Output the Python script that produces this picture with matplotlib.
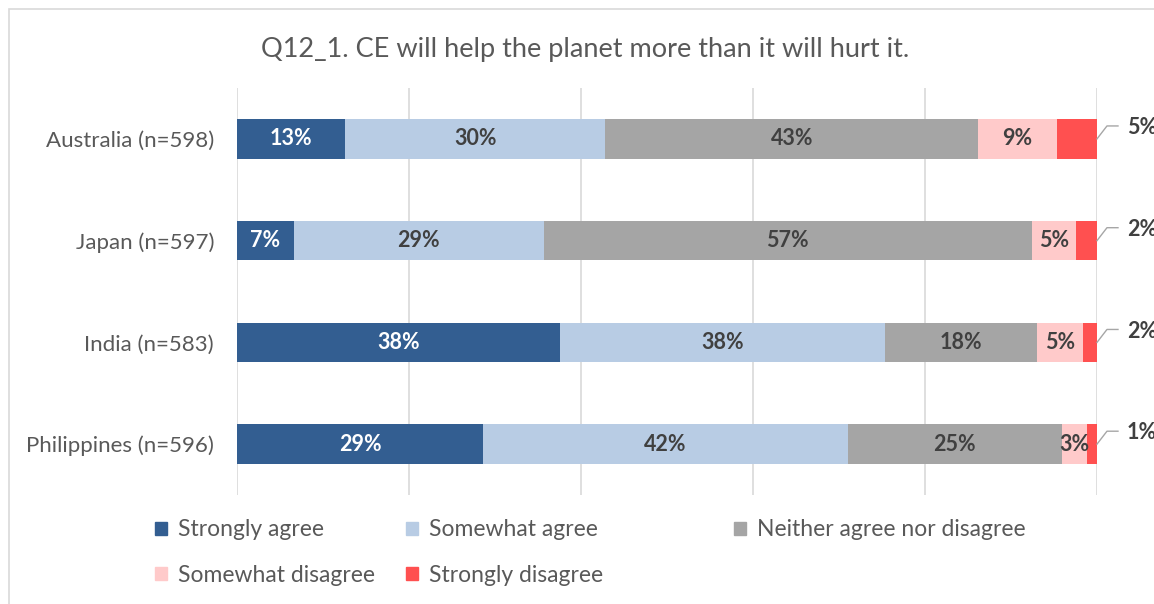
import numpy as np
import matplotlib.pyplot as plt
from matplotlib.patches import Patch, Rectangle

plt.rcParams['font.family'] = ['Lato', 'DejaVu Sans']

# data (percent of respondents)
countries = ['Australia (n=598)', 'Japan (n=597)', 'India (n=583)', 'Philippines (n=596)']
series = ['Strongly agree', 'Somewhat agree', 'Neither agree nor disagree',
          'Somewhat disagree', 'Strongly disagree']
strongly_agree = [12.6, 6.6, 37.6, 28.6]
somewhat_agree = [30.2, 29.1, 37.8, 42.4]
neither = [43.4, 56.7, 17.6, 24.9]
somewhat_disagree = [9.1, 5.2, 5.4, 2.9]
strongly_disagree = [4.7, 2.4, 1.6, 1.2]

colors = ['#335E91', '#B8CCE4', '#A5A5A5', '#FFCACA', '#FF5050']
label_colors = ['white', '#404040', '#404040', '#404040', '#404040']
txt_gray = '#595959'

fig = plt.figure(figsize=(11.54, 6.04), dpi=100)
ax = fig.add_axes([237/1154, 1 - 495/604, 860/1154, 407/604])

# frame around chart
fig.patches.append(Rectangle((9/1154, -0.1), 1.2, 1 - 9/604 + 0.1, transform=fig.transFigure,
                             fill=False, edgecolor='#D9D9D9', linewidth=1.2))

y = np.arange(len(countries))
left = np.zeros(len(countries))
all_vals = [strongly_agree, somewhat_agree, neither, somewhat_disagree, strongly_disagree]
for k, vals in enumerate(all_vals):
    vals = np.array(vals)
    ax.barh(y, vals, left=left, height=0.39, color=colors[k], zorder=2)
    for i in range(len(countries)):
        lab = '{0:.0f}%'.format(vals[i])
        if k < 4:
            ax.text(left[i] + vals[i] / 2, y[i], lab, ha='center', va='center',
                    fontsize=15.5, fontweight='bold', color=label_colors[k], zorder=3)
        else:
            # callout label to the right of the bar
            xe = left[i] + vals[i]
            ax.plot([xe, xe + 1.16, xe + 2.44], [y[i], y[i] - 0.127, y[i] - 0.127],
                    color='#A6A6A6', lw=1, clip_on=False, zorder=3)
            ax.text(xe + 3.5, y[i] - 0.11, lab, ha='left', va='center', fontsize=15.5,
                    fontweight='bold', color='#404040', clip_on=False)
    left += vals

ax.set_xlim(0, 100)
ax.set_ylim(3.5, -0.5)
ax.set_xticks(np.arange(0, 101, 20))
ax.xaxis.grid(True, color='#D9D9D9', linewidth=1.2, zorder=0)
ax.tick_params(axis='x', length=0, labelbottom=False)
ax.tick_params(axis='y', length=0, pad=16.5, labelsize=16, labelcolor=txt_gray)
ax.set_yticks(y)
ax.set_yticklabels(countries)
for s in ax.spines.values():
    s.set_visible(False)

fig.text(585/1154, 1 - 50/604, 'Q12_1. CE will help the planet more than it will hurt it.',
         ha='center', va='center', fontsize=19.5, color=txt_gray)

# legend entries laid out like the original
leg_pos = [(155, 530), (406, 530), (734, 530), (155, 575), (406, 575)]
for k, name in enumerate(series):
    px, py = leg_pos[k]
    fig.legend(handles=[Patch(color=colors[k])], labels=[name], loc='center left',
               bbox_to_anchor=(px/1154, 1 - py/604), frameon=False, fontsize=16.5,
               labelcolor=txt_gray, handlelength=0.52, handleheight=0.52,
               handletextpad=0.48, borderpad=0, borderaxespad=0)

fig.savefig('out.png', dpi=100)
